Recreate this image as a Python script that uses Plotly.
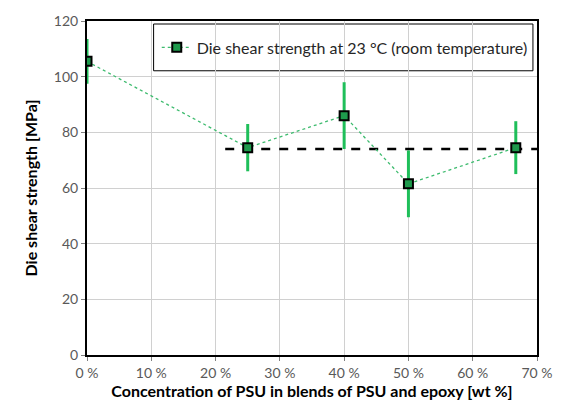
import plotly.graph_objects as go

conc = [0, 25, 40, 50, 66.7]
strength = [105.5, 74.5, 86.0, 61.5, 74.5]
err = [8.0, 8.5, 12.0, 12.0, 9.5]
ref_x = [21.5, 70]
ref_y = [74, 74]
x_ticks = [0, 10, 20, 30, 40, 50, 60, 70]
y_ticks = [0, 20, 40, 60, 80, 100, 120]

FONT = "Lato"
fig = go.Figure()

fig.add_trace(go.Scatter(
    x=ref_x, y=ref_y, mode="lines", showlegend=False,
    line=dict(color="black", width=2.5, dash="dash"), hoverinfo="skip"))

fig.add_trace(go.Scatter(
    x=conc, y=strength, mode="lines+markers",
    name="Die shear strength at 23 °C (room temperature)",
    line=dict(color="#3dbb6e", width=1.3, dash="dot"),
    marker=dict(symbol="square", size=9, color="#1e9a4c",
                line=dict(color="black", width=2)),
    error_y=dict(type="data", array=err, visible=True, color="#1fbf5a",
                 thickness=3, width=0)))

fig.add_shape(type="rect", xref="paper", yref="paper",
              x0=0.148, x1=0.991, y0=0.851, y1=0.991,
              line=dict(color="black", width=1), fillcolor="white", layer="below")

fig.update_layout(
    width=565, height=410,
    margin=dict(l=87, r=20, t=14, b=52),
    paper_bgcolor="white", plot_bgcolor="white",
    font=dict(family=FONT, color="#595959", size=14),
    legend=dict(x=0.155, y=0.921, xanchor="left", yanchor="middle",
                bgcolor="rgba(0,0,0,0)", borderwidth=0,
                font=dict(family=FONT, size=16, color="#262626")),
    xaxis=dict(range=[0, 70], tickvals=x_ticks,
               ticktext=[f"{v} %" for v in x_ticks],
               showgrid=True, gridcolor="#d0d0d0", gridwidth=1,
               showline=True, linecolor="black", linewidth=2, mirror=True,
               ticks="outside", ticklen=4, tickcolor="#808080", zeroline=False,
               title=dict(text="<b>Concentration of PSU in blends of PSU and epoxy [wt %]</b>",
                          font=dict(family=FONT, size=16, color="black"), standoff=6)),
    yaxis=dict(range=[0, 120], tickvals=y_ticks,
               showgrid=True, gridcolor="#d0d0d0", gridwidth=1,
               showline=True, linecolor="black", linewidth=2, mirror=True,
               ticks="outside", ticklen=4, tickcolor="#808080", zeroline=False,
               title=dict(text="<b>Die shear strength [MPa]</b>",
                          font=dict(family=FONT, size=16, color="black"), standoff=12)),
)

fig.write_html("out.html")
